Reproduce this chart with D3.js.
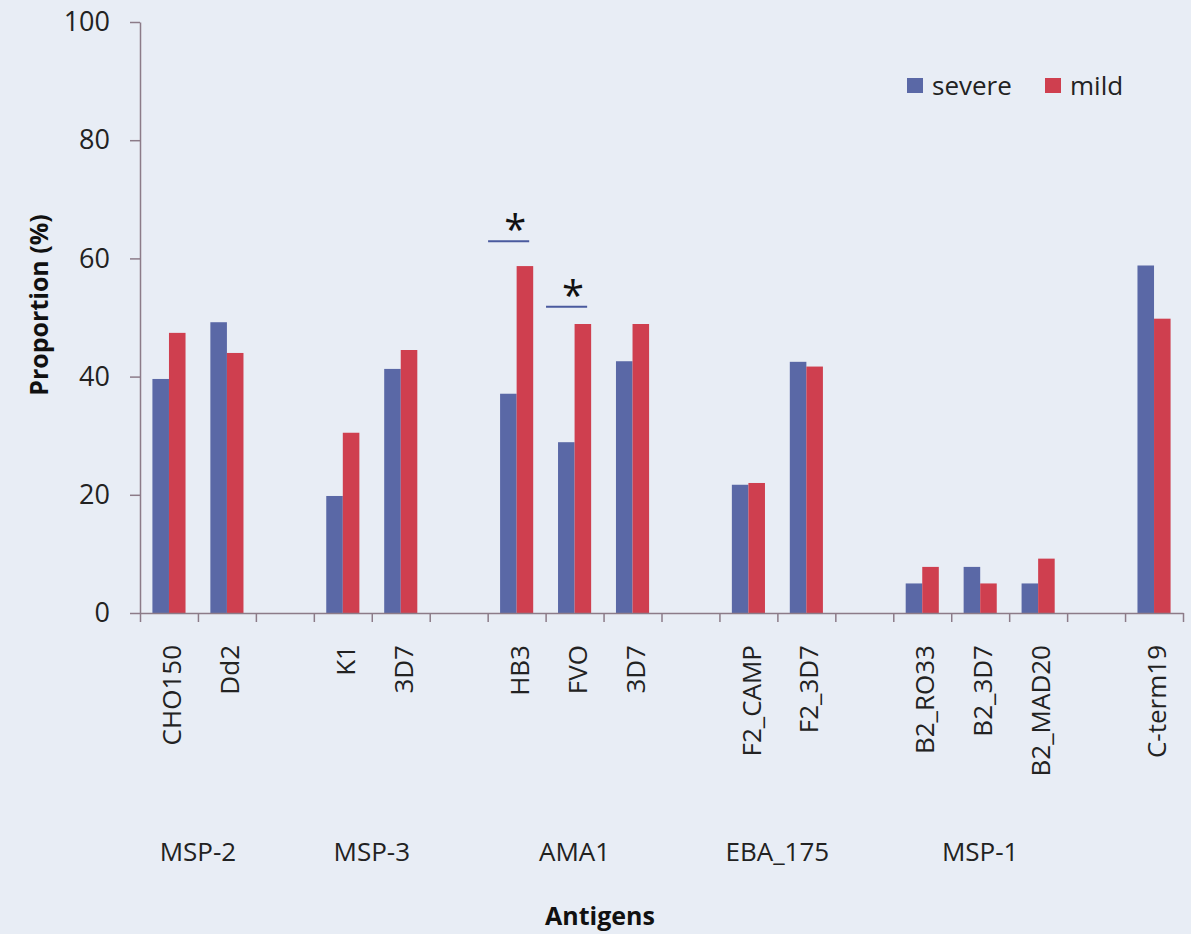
<!DOCTYPE html>
<html lang="en">
<head>
    <meta charset="UTF-8">
    <title>Antibody prevalence: severe vs mild</title>
    <script src="https://d3js.org/d3.v7.min.js"></script>
    <style>
        body {
            margin: 0;
            background: #e8edf5;
            font-family: "Open Sans", Arial, sans-serif;
        }
        .axis path, .axis line {
            stroke: #8c7b88;
            stroke-width: 1.5px;
        }
        .axis text {
            fill: #222;
            font-size: 27px;
            font-family: "Open Sans", Arial, sans-serif;
        }
        .cat-label, .group-label, .legend-text {
            fill: #222;
            font-size: 26px;
        }
        .title-label {
            fill: #111;
            font-size: 25px;
            font-weight: bold;
        }
    </style>
</head>
<body>
    <div id="chart"></div>
    <script>
        // antigens along the x axis ('' = empty slot between groups)
        const categories = ["CHO150", "Dd2", "", "K1", "3D7", "", "HB3", "FVO", "3D7", "",
                            "F2_CAMP", "F2_3D7", "", "B2_RO33", "B2_3D7", "B2_MAD20", "", "C-term19"];
        const severe = [39.6, 49.2, null, 19.8, 41.3, null, 37.1, 28.9, 42.6, null,
                        21.7, 42.5, null, 5.0, 7.8, 5.0, null, 58.8];
        const mild = [47.4, 44.0, null, 30.5, 44.5, null, 58.7, 48.9, 48.9, null,
                      22.0, 41.7, null, 7.8, 5.0, 9.2, null, 49.8];
        const yTicks = [0, 20, 40, 60, 80, 100];

        // group names and the category slots they cover
        const groups = [
          { name: "MSP-2", from: 0, to: 1 },
          { name: "MSP-3", from: 3, to: 4 },
          { name: "AMA1", from: 6, to: 8 },
          { name: "EBA_175", from: 10, to: 11 },
          { name: "MSP-1", from: 13, to: 15 }
        ];

        // significance markers (category index, height of bracket in %)
        const significant = [
          { cat: 6, level: 62.9 },
          { cat: 7, level: 51.8 }
        ];

        const seriesNames = ["severe", "mild"];
        const colors = { severe: "#5a68a6", mild: "#cf3f4f" };

        const W = 1191, H = 934;
        const margin = { top: 22, right: 8, bottom: 321, left: 140 };
        const plotW = W - margin.left - margin.right;
        const plotH = H - margin.top - margin.bottom;

        const svg = d3.select("#chart")
          .append("svg")
          .attr("width", W)
          .attr("height", H);

        const g = svg.append("g")
          .attr("transform", `translate(${margin.left},${margin.top})`);

        const idx = d3.range(categories.length);

        const x = d3.scaleBand()
          .domain(idx)
          .range([0, plotW])
          .padding(0);

        const xSub = d3.scaleBand()
          .domain(seriesNames)
          .range([0, x.bandwidth()])
          .paddingInner(0)
          .paddingOuter(0.75);

        const xEdge = d3.scaleLinear()
          .domain([0, categories.length])
          .range([0, plotW]);

        const y = d3.scaleLinear()
          .domain([0, 100])
          .range([plotH, 0]);

        // bars
        const rows = idx.map(i => ({ i, severe: severe[i], mild: mild[i] }));
        seriesNames.forEach(s => {
          g.selectAll(".bar-" + s)
            .data(rows.filter(d => d[s] != null))
            .enter()
            .append("rect")
            .attr("x", d => x(d.i) + xSub(s))
            .attr("y", d => y(d[s]))
            .attr("width", xSub.bandwidth())
            .attr("height", d => y(0) - y(d[s]))
            .attr("fill", colors[s]);
        });

        // y axis
        g.append("g")
          .attr("class", "axis")
          .call(d3.axisLeft(y).tickValues(yTicks).tickSizeInner(10).tickSizeOuter(0).tickPadding(20));

        // x axis: ticks at slot boundaries
        g.append("g")
          .attr("class", "axis")
          .attr("transform", `translate(0,${plotH})`)
          .call(d3.axisBottom(xEdge).tickValues(d3.range(categories.length + 1))
            .tickFormat("").tickSizeInner(9).tickSizeOuter(0));

        // category labels, rotated
        g.selectAll(".cat-label")
          .data(idx.filter(i => categories[i] !== ""))
          .enter()
          .append("text")
          .attr("class", "cat-label")
          .attr("transform", i => `translate(${x(i) + x.bandwidth() / 2 + 3},${plotH + 32}) rotate(-90)`)
          .attr("dy", "0.35em")
          .attr("text-anchor", "end")
          .text(i => categories[i]);

        // group labels
        g.selectAll(".group-label")
          .data(groups)
          .enter()
          .append("text")
          .attr("class", "group-label")
          .attr("x", d => (x(d.from) + x(d.to) + x.bandwidth()) / 2)
          .attr("y", plotH + 248)
          .attr("text-anchor", "middle")
          .text(d => d.name);

        // significance brackets
        significant.forEach(s => {
          const x0 = x(s.cat) + xSub("severe") - 12;
          const x1 = x(s.cat) + xSub("mild") + xSub.bandwidth() - 4;
          g.append("line")
            .attr("x1", x0).attr("x2", x1)
            .attr("y1", y(s.level)).attr("y2", y(s.level))
            .attr("stroke", "#4a5a9e")
            .attr("stroke-width", 2);
          g.append("text")
            .attr("x", x1 - 14)
            .attr("y", y(s.level) + 3)
            .attr("text-anchor", "middle")
            .attr("font-size", 40)
            .attr("fill", "#111")
            .text("*");
        });

        // axis titles
        svg.append("text")
          .attr("class", "title-label")
          .attr("transform", "translate(48,305) rotate(-90)")
          .attr("text-anchor", "middle")
          .text("Proportion (%)");

        svg.append("text")
          .attr("class", "title-label")
          .attr("x", 600)
          .attr("y", 925)
          .attr("text-anchor", "middle")
          .text("Antigens");

        // legend
        const legend = svg.append("g")
          .attr("transform", "translate(907,78)");
        const legendX = { severe: 0, mild: 138 };
        seriesNames.forEach(s => {
          const item = legend.append("g")
            .attr("transform", `translate(${legendX[s]},0)`);
          item.append("rect")
            .attr("width", 16)
            .attr("height", 15)
            .attr("fill", colors[s]);
          item.append("text")
            .attr("class", "legend-text")
            .attr("x", 25)
            .attr("y", 17)
            .text(s);
        });
    </script>
</body>
</html>
